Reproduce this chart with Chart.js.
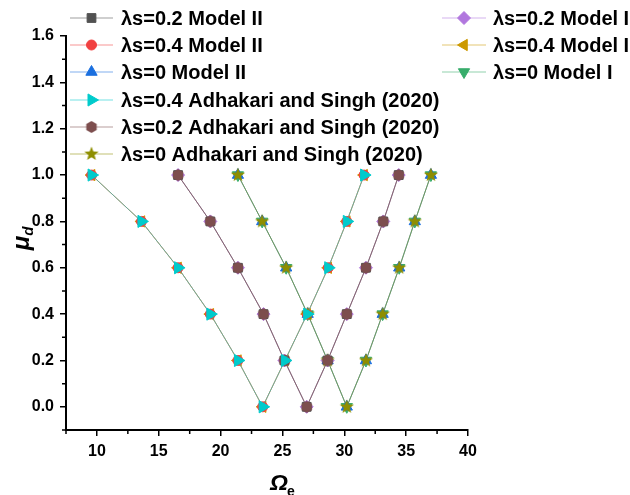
<!DOCTYPE html>
<html>
<head>
<meta charset="utf-8">
<script src="https://cdn.jsdelivr.net/npm/chart.js@4/dist/chart.umd.min.js"></script>
<style>
  html, body { margin: 0; padding: 0; background: #fff; }
  #wrap { width: 630px; height: 495px; position: relative; }
</style>
</head>
<body>
<div id="wrap"><canvas id="c" width="630" height="495"></canvas></div>
<script>
// Friction coefficient levels, walked down one branch and up the other
const muLevels = [1.0, 0.8, 0.6, 0.4, 0.2, 0.0, 0.2, 0.4, 0.6, 0.8, 1.0];

// Excitation frequency for each slenderness ratio
const omegaLs04 = [9.57, 13.6, 16.56, 19.17, 21.4, 23.4, 25.2, 27.0, 28.7, 30.2, 31.6];
const omegaLs02 = [16.56, 19.17, 21.4, 23.47, 25.16, 26.96, 28.65, 30.2, 31.75, 33.15, 34.4];
const omegaLs0  = [21.4, 23.36, 25.3, 27.04, 28.65, 30.2, 31.75, 33.1, 34.44, 35.7, 37.0];

// Axis ticks
const xTicks = [10, 15, 20, 25, 30, 35, 40];
const yTicks = [0, 0.2, 0.4, 0.6, 0.8, 1.0, 1.2, 1.4, 1.6];
const xMinor = [7.5, 12.5, 17.5, 22.5, 27.5, 32.5, 37.5];
const yMinor = [-0.1, 0.1, 0.3, 0.5, 0.7, 0.9, 1.1, 1.3, 1.5];

// Series labels
const labels = [
  'λs=0.2 Model II', 'λs=0.4 Model II', 'λs=0 Model II',
  'λs=0.4 Adhakari and Singh (2020)', 'λs=0.2 Adhakari and Singh (2020)', 'λs=0 Adhakari and Singh (2020)',
  'λs=0.2 Model I', 'λs=0.4 Model I', 'λs=0 Model I'
];

// ---- custom marker glyphs ----
function glyph(size, draw) {
  const cv = document.createElement('canvas');
  cv.width = size; cv.height = size;
  const g = cv.getContext('2d');
  g.translate(size / 2, size / 2);
  draw(g);
  return cv;
}
const hexagon = glyph(14, g => {
  g.beginPath();
  for (let i = 0; i < 6; i++) {
    const a = Math.PI / 6 + i * Math.PI / 3;
    g.lineTo(6 * Math.cos(a), 6 * Math.sin(a));
  }
  g.closePath();
  g.fillStyle = '#7D4E4E';
  g.fill();
});
const star = glyph(18, g => {
  g.beginPath();
  for (let i = 0; i < 10; i++) {
    const r = i % 2 === 0 ? 7.5 : 3.2;
    const a = -Math.PI / 2 + i * Math.PI / 5;
    g.lineTo(r * Math.cos(a), r * Math.sin(a));
  }
  g.closePath();
  g.fillStyle = '#8E8E00';
  g.fill();
});

function rgba(hex, a) {
  const n = parseInt(hex.slice(1), 16);
  return `rgba(${n >> 16},${(n >> 8) & 255},${n & 255},${a})`;
}

function series(label, values, color, style, radius, rotation, order) {
  return {
    label,
    data: values.map((x, i) => ({ x, y: muLevels[i] })),
    borderColor: rgba(color, 0.55),
    borderWidth: 1,
    backgroundColor: color,
    pointBackgroundColor: color,
    pointBorderColor: color,
    pointBorderWidth: 1,
    pointStyle: style,
    pointRadius: radius,
    pointHoverRadius: radius,
    pointRotation: rotation,
    showLine: true,
    tension: 0,
    order
  };
}

// Lower order is painted last, so the published results sit on top
const datasets = [
  series(labels[0], omegaLs02, '#515151', 'rect', 6.2, 0, 1),
  series(labels[1], omegaLs04, '#F14040', 'circle', 5, 0, 1),
  series(labels[2], omegaLs0,  '#1A6FDF', 'triangle', 6.5, 0, 1),
  series(labels[3], omegaLs04, '#00CBCC', 'triangle', 7, 90, 0),
  series(labels[4], omegaLs02, '#7D4E4E', hexagon, 6, 0, 0),
  series(labels[5], omegaLs0,  '#8E8E00', star, 7, 0, 0),
  series(labels[6], omegaLs02, '#B177DE', 'rectRot', 6.5, 0, 2),
  series(labels[7], omegaLs04, '#CC9900', 'triangle', 6.5, -90, 2),
  series(labels[8], omegaLs0,  '#37AD6B', 'triangle', 6.5, 180, 2)
];

const FONT = '"Liberation Sans", Arial, sans-serif';

// Minor ticks, axis titles and the two-column legend
const decorations = {
  id: 'decorations',
  afterDraw(chart) {
    const { ctx, scales: { x, y } } = chart;
    const a = chart.chartArea;
    ctx.save();
    ctx.strokeStyle = '#000';
    ctx.lineWidth = 1.5;
    ctx.beginPath();
    xMinor.forEach(v => {
      const px = x.getPixelForValue(v);
      ctx.moveTo(px, a.bottom); ctx.lineTo(px, a.bottom + 4);
    });
    yMinor.forEach(v => {
      const py = y.getPixelForValue(v);
      ctx.moveTo(a.left, py); ctx.lineTo(a.left - 4, py);
    });
    ctx.stroke();

    // y title: mu with subscript d
    ctx.fillStyle = '#000';
    ctx.save();
    ctx.translate(21, 238);
    ctx.rotate(-Math.PI / 2);
    ctx.textBaseline = 'alphabetic';
    ctx.textAlign = 'left';
    ctx.font = `italic bold 24px ${FONT}`;
    const wMu = ctx.measureText('μ').width;
    const x0 = -(wMu + 10) / 2;
    ctx.fillText('μ', x0, 8);
    ctx.font = `italic bold 15px ${FONT}`;
    ctx.fillText('d', x0 + wMu, 12);
    ctx.restore();

    // x title: Omega with subscript e
    ctx.save();
    ctx.textBaseline = 'alphabetic';
    ctx.textAlign = 'left';
    ctx.font = `italic bold 23px ${FONT}`;
    const wOm = ctx.measureText('Ω').width;
    const ox = 270;
    ctx.fillText('Ω', ox, 490);
    ctx.font = `bold 14px ${FONT}`;
    ctx.fillText('e', ox + wOm - 1, 496);
    ctx.restore();

    // legend
    const sets = chart.data.datasets;
    const drawEntry = (ds, lx0, lx1, tx, ty) => {
      ctx.strokeStyle = ds.borderColor;
      ctx.lineWidth = 1;
      ctx.beginPath();
      ctx.moveTo(lx0, ty); ctx.lineTo(lx1, ty);
      ctx.stroke();
      ctx.fillStyle = ds.pointBackgroundColor;
      ctx.strokeStyle = ds.pointBorderColor;
      Chart.helpers.drawPoint(ctx, {
        pointStyle: ds.pointStyle,
        radius: ds.pointRadius,
        rotation: ds.pointRotation,
        borderWidth: 1
      }, (lx0 + lx1) / 2, ty);
      ctx.fillStyle = '#000';
      ctx.font = `bold 20px ${FONT}`;
      ctx.textAlign = 'left';
      ctx.textBaseline = 'middle';
      ctx.fillText(ds.label, tx, ty + 1);
    };
    const rowY = [18, 45, 72, 100, 127, 154];
    for (let i = 0; i < 6; i++) drawEntry(sets[i], 70, 113, 121, rowY[i]);
    for (let i = 0; i < 3; i++) drawEntry(sets[6 + i], 442, 486, 493, rowY[i]);
    ctx.restore();
  }
};

new Chart(document.getElementById('c'), {
  type: 'scatter',
  data: { datasets },
  options: {
    responsive: false,
    animation: false,
    layout: { padding: { left: 0, top: 36, right: 162, bottom: 0 } },
    plugins: { legend: { display: false }, tooltip: { enabled: false } },
    scales: {
      x: {
        type: 'linear',
        min: 7.5, max: 40,
        afterBuildTicks: s => { s.ticks = xTicks.map(v => ({ value: v })); },
        afterFit: s => { s.height = 65; },
        grid: { display: true, drawOnChartArea: false, drawTicks: true, tickLength: 6, color: '#000', lineWidth: 1.5 },
        border: { display: true, color: '#000', width: 2 },
        ticks: { color: '#000', font: { family: FONT, size: 16, weight: 'bold' }, padding: 6, maxRotation: 0,
                 callback: v => String(v) },
        title: { display: false }
      },
      y: {
        type: 'linear',
        min: -0.1, max: 1.6,
        afterBuildTicks: s => { s.ticks = yTicks.map(v => ({ value: v })); },
        afterFit: s => { s.width = 66; },
        grid: { display: true, drawOnChartArea: false, drawTicks: true, tickLength: 6, color: '#000', lineWidth: 1.5 },
        border: { display: true, color: '#000', width: 2 },
        ticks: { color: '#000', font: { family: FONT, size: 16, weight: 'bold' }, padding: 6,
                 callback: v => v.toFixed(1) },
        title: { display: false }
      }
    }
  },
  plugins: [decorations]
});
</script>
</body>
</html>
